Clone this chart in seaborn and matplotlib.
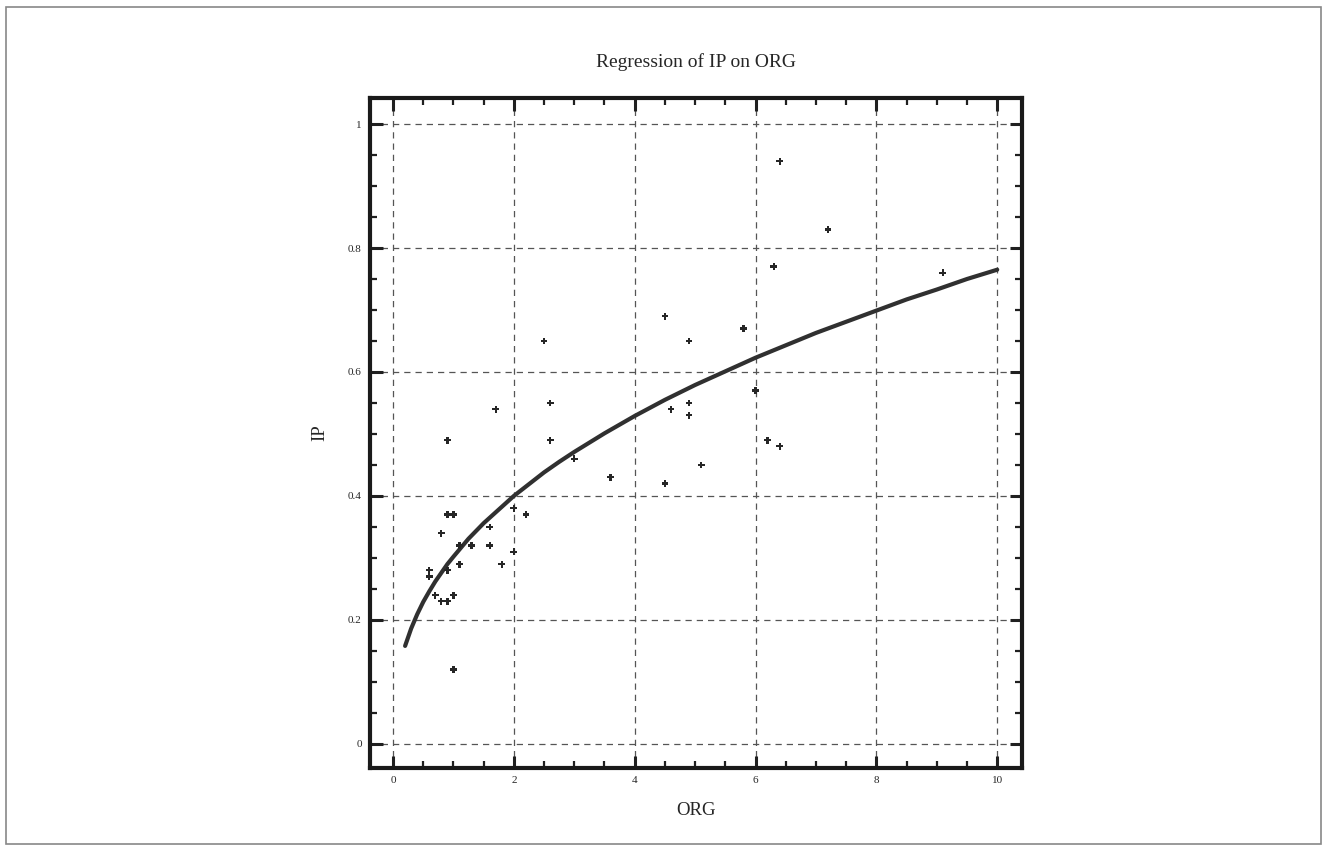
import numpy as np
import pandas as pd
import matplotlib
matplotlib.use('Agg')
import matplotlib.pyplot as plt
from matplotlib.ticker import MultipleLocator
import seaborn as sns

org = [0.6, 0.6, 0.7, 0.8, 0.9, 1.0, 1.0, 0.9, 0.8, 0.9, 1.0, 0.9, 1.1, 1.1,
       1.3, 1.6, 1.6, 1.8, 2.0, 2.0, 2.2, 1.7, 2.5, 2.6, 2.6, 3.0, 3.6, 4.5,
       4.5, 4.6, 4.9, 4.9, 4.9, 5.1, 5.8, 6.0, 6.2, 6.4, 6.3, 6.4, 7.2, 9.1]
ip = [0.28, 0.27, 0.24, 0.23, 0.23, 0.24, 0.12, 0.28, 0.34, 0.37, 0.37, 0.49,
      0.29, 0.32, 0.32, 0.35, 0.32, 0.29, 0.31, 0.38, 0.37, 0.54, 0.65, 0.55,
      0.49, 0.46, 0.43, 0.42, 0.69, 0.54, 0.65, 0.55, 0.53, 0.45, 0.67, 0.57,
      0.49, 0.48, 0.77, 0.94, 0.83, 0.76]

# fitted regression curve
fit_org = [0.2, 0.3, 0.4, 0.5, 0.6, 0.7, 0.8, 0.9, 1.0, 1.25, 1.5, 2.0, 2.25,
           2.5, 2.75, 3.0, 3.25, 3.5, 3.75, 4.0, 4.5, 5.0, 5.5, 6.0, 6.5, 7.0,
           7.5, 8.0, 8.5, 9.0, 9.5, 10.0]
fit_ip = [0.158, 0.186, 0.209, 0.229, 0.246, 0.262, 0.276, 0.290, 0.302, 0.331,
          0.356, 0.400, 0.419, 0.438, 0.455, 0.471, 0.486, 0.501, 0.515, 0.529,
          0.555, 0.579, 0.601, 0.623, 0.643, 0.663, 0.681, 0.699, 0.717, 0.733,
          0.750, 0.765]

x_ticks = [0, 2, 4, 6, 8, 10]
y_ticks = [0, 0.2, 0.4, 0.6, 0.8, 1]
y_tick_labels = ['0', '0.2', '0.4', '0.6', '0.8', '1']

df = pd.DataFrame({'ORG': org, 'IP': ip})
df_fit = pd.DataFrame({'ORG': fit_org, 'IP': fit_ip})

sns.set_style('ticks')
plt.rcParams['font.family'] = ['Liberation Serif', 'DejaVu Serif']

fig = plt.figure(figsize=(13.24, 8.59), dpi=100)
ax = fig.add_axes([0.2795, 0.1059, 0.4924, 0.78])

sns.lineplot(data=df_fit, x='ORG', y='IP', ax=ax, color='#303030', linewidth=3,
             sort=False, zorder=3)
sns.scatterplot(data=df, x='ORG', y='IP', ax=ax, marker='P', s=24,
                color='#262626', edgecolor='none', zorder=4)

ax.set_xlim(-0.38, 10.41)
ax.set_ylim(-0.039, 1.042)
ax.set_xticks(x_ticks)
ax.set_xticklabels([str(t) for t in x_ticks])
ax.set_yticks(y_ticks)
ax.set_yticklabels(y_tick_labels)
ax.xaxis.set_minor_locator(MultipleLocator(0.5))
ax.yaxis.set_minor_locator(MultipleLocator(0.05))

ax.grid(True, which='major', color='#555555', linestyle=(0, (5, 4)), linewidth=0.9)
ax.tick_params(which='major', direction='in', length=9, width=2.2, top=True,
               right=True, labelsize=8, pad=6, color='#202020')
ax.tick_params(which='minor', direction='in', length=5, width=1.6, top=True,
               right=True, color='#202020')
for s in ax.spines.values():
    s.set_linewidth(3)
    s.set_color('#1a1a1a')

ax.set_title('Regression of IP on ORG', fontsize=14, pad=22)
ax.set_xlabel('ORG', fontsize=13.5, labelpad=12)
ax.set_ylabel('IP', fontsize=13.5, labelpad=14)

# thin frame round the whole page
fig.add_artist(plt.Rectangle((0.0045, 0.018), 0.993, 0.974, transform=fig.transFigure,
                             fill=False, edgecolor='#888888', linewidth=1.2))

fig.savefig('out.png', dpi=100)
